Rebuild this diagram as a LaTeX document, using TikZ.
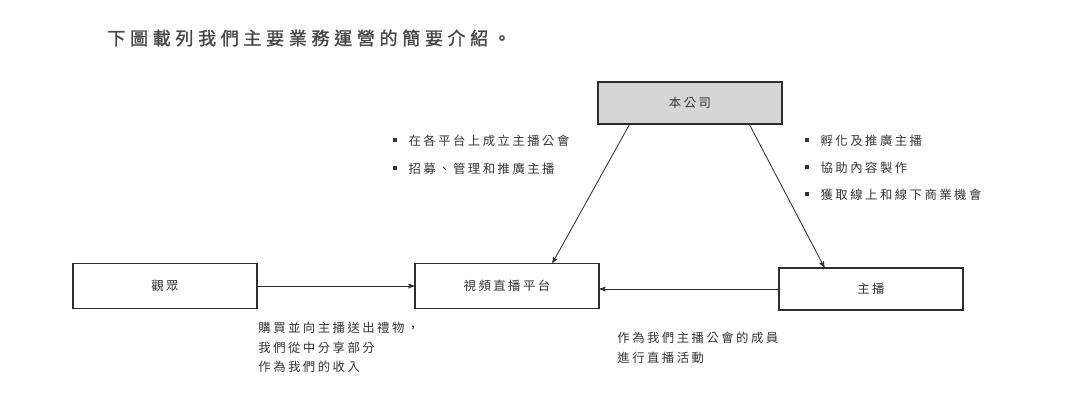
\documentclass[tikz,border=0pt]{standalone}
\usepackage{fontspec}
\setmainfont{Liberation Serif}
\newfontfamily\cjk[LetterSpace=20]{Noto Sans CJK TC}
\newfontfamily\cjktitle[LetterSpace=26,FakeBold=1.2]{Noto Sans CJK TC}
\usetikzlibrary{arrows,positioning}
\definecolor{txtgrey}{HTML}{333333}
\definecolor{linegrey}{HTML}{2E2E2E}
\definecolor{boxfill}{HTML}{D6D6D6}
\newcommand{\dotmark}{\raisebox{2.6pt}{\rule{2.8pt}{2.8pt}}\hspace{8pt}}

\begin{document}
\begin{tikzpicture}[->, >=stealth', semithick, draw=linegrey, x=0.025cm, y=-0.025cm]
\tikzstyle{every node}=[font=\cjk\fontsize{8.8}{13.8}\selectfont, text=txtgrey]
\tikzstyle{box}=[draw=linegrey, fill=white, thick, minimum width=4.6cm, minimum height=1.12cm]
\tikzstyle{note}=[anchor=west, inner sep=0pt]
\useasboundingbox (0,0) rectangle (1080,418);

\node[note, font=\cjktitle\fontsize{12.8}{14}\selectfont, text=black!72] (title) at (107,38) {下圖載列我們主要業務運營的簡要介紹。};

\node[box, fill=boxfill, minimum height=1.05cm] (company) at (690,103) {本公司};
\node[box] (audience) at (165,286) {觀眾};
\node[box] (platform) at (507,286) {視頻直播平台};
\node[box, minimum height=1.05cm] (host) at (871,289) {主播};

\node[note] (lefta) at (393,141) {\dotmark 在各平台上成立主播公會};
\node[note] (leftb) at (393,169) {\dotmark 招募、管理和推廣主播};
\node[note] (righta) at (805,141) {\dotmark 孵化及推廣主播};
\node[note] (rightb) at (805,168) {\dotmark 協助內容製作};
\node[note] (rightc) at (805,195) {\dotmark 獲取線上和線下商業機會};

\node[note, anchor=north west, align=left] (gift) at (258,322) {購買並向主播送出禮物，\\我們從中分享部分\\作為我們的收入};
\node[note, anchor=north west, align=left] (member) at (617,332) {作為我們主播公會的成員\\進行直播活動};

\path
 ([xshift=0.8cm]company.south west) edge ([xshift=3.45cm]platform.north west)
 ([xshift=3.8cm]company.south west) edge ([xshift=1.15cm]host.north west)
 (audience.east) edge (platform.west)
 (host.west) edge (host.west -| platform.east);
\end{tikzpicture}
\end{document}
